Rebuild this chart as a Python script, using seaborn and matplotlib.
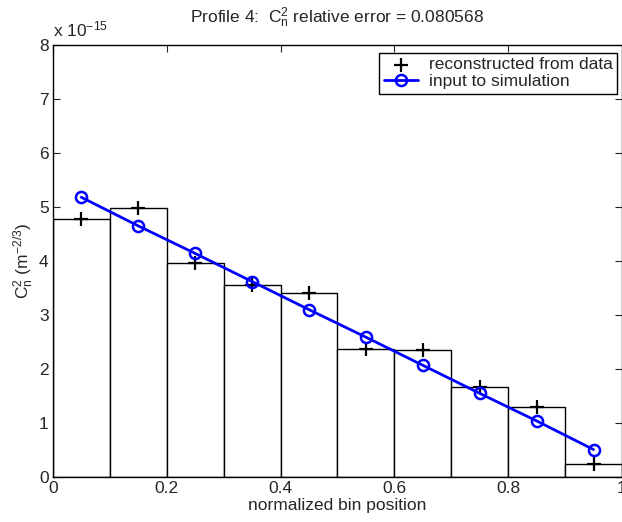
import numpy as np
import pandas as pd
import matplotlib
matplotlib.use("Agg")
import matplotlib.pyplot as plt
import seaborn as sns
from matplotlib.ticker import FuncFormatter

# bin centres and values (units of 1e-15 m^-2/3)
bin_pos = [0.05, 0.15, 0.25, 0.35, 0.45, 0.55, 0.65, 0.75, 0.85, 0.95]
reconstructed = [4.78, 4.99, 3.96, 3.56, 3.40, 2.38, 2.35, 1.67, 1.30, 0.25]
sim_input = [5.18, 4.65, 4.14, 3.62, 3.10, 2.59, 2.07, 1.55, 1.04, 0.51]
scale = 1e-15

df = pd.DataFrame({
    "pos": bin_pos,
    "recon": np.array(reconstructed) * scale,
    "sim": np.array(sim_input) * scale,
})

sns.set_style("ticks")
plt.rcParams["font.family"] = ["Liberation Sans", "DejaVu Sans"]
plt.rcParams["mathtext.fontset"] = "custom"
plt.rcParams["mathtext.rm"] = "Liberation Sans"
plt.rcParams["mathtext.it"] = "Liberation Sans"
plt.rcParams["xtick.direction"] = "in"
plt.rcParams["ytick.direction"] = "in"

fs = 12.5

fig = plt.figure(figsize=(6.22, 5.22), dpi=100)
ax = fig.add_axes([0.085, 0.086, 0.915, 0.828])

# histogram-like bars
sns.barplot(data=df, x="pos", y="recon", native_scale=True, width=1.0,
            color="white", edgecolor="black", linewidth=1.0, ax=ax,
            errorbar=None, zorder=1)

sns.scatterplot(data=df, x="pos", y="recon", marker="+", s=90, color="black",
                linewidth=1.6, ax=ax, zorder=3, label="reconstructed from data")
sns.lineplot(data=df, x="pos", y="sim", color="#0000ff", linewidth=2.0,
             marker="o", markersize=8, markerfacecolor="none",
             markeredgecolor="#0000ff", markeredgewidth=1.8, ax=ax, zorder=4,
             label="input to simulation")

ax.set_xlim(0, 1)
ax.set_ylim(0, 8e-15)
ax.set_xticks([0, 0.2, 0.4, 0.6, 0.8, 1.0])
ax.set_xticklabels(["0", "0.2", "0.4", "0.6", "0.8", "1"])
ax.set_yticks(np.arange(0, 9) * scale)
ax.yaxis.set_major_formatter(FuncFormatter(lambda v, p: f"{v / scale:.0f}"))
ax.tick_params(axis="both", which="both", top=True, right=True,
               length=5, width=0.8, labelsize=fs, pad=3)
for s in ax.spines.values():
    s.set_linewidth(1.0)
    s.set_color("black")

ax.set_xlabel("normalized bin position", fontsize=fs, labelpad=1)
ax.set_ylabel(r"C$_n^2$ (m$^{-2/3}$)", fontsize=fs, labelpad=2)
ax.set_title(r"Profile 4:  C$_n^2$ relative error = 0.080568", fontsize=fs, pad=16)
ax.text(0.0, 1.012, r"x 10$^{-15}$", transform=ax.transAxes, fontsize=fs,
        ha="left", va="bottom")

leg = ax.legend(loc="upper right", bbox_to_anchor=(1 - 5 / 570, 1 - 8 / 432),
                borderaxespad=0, fancybox=False, edgecolor="black",
                framealpha=1, fontsize=fs, handlelength=2.0,
                borderpad=0.25, labelspacing=0.1, handletextpad=0.6)
leg.get_frame().set_linewidth(1.0)

fig.savefig("out.png", dpi=100)
